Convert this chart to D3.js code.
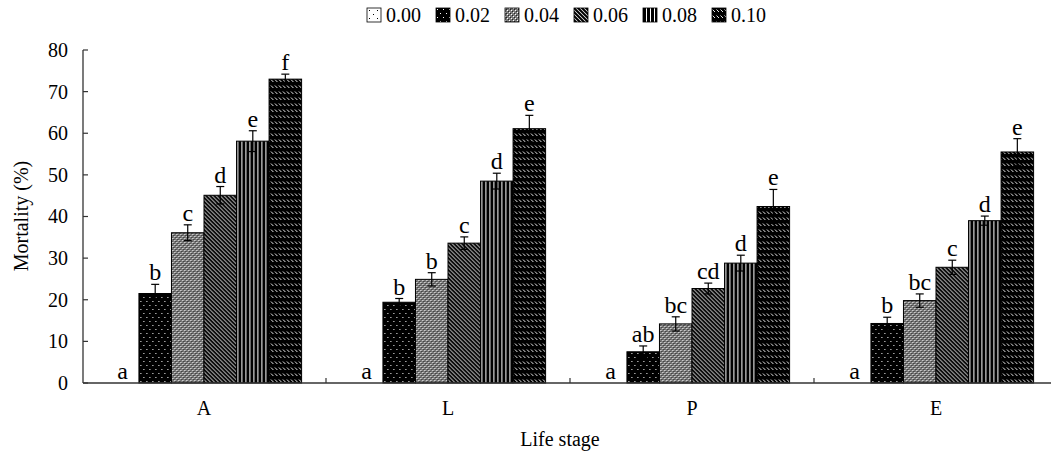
<!DOCTYPE html>
<html>
<head>
<meta charset="utf-8">
<script src="https://cdn.jsdelivr.net/npm/d3@7"></script>
<style>
  body { margin: 0; background: #fff; }
  svg { display: block; font-family: "Liberation Serif", "Times New Roman", serif; }
</style>
</head>
<body>
<div id="chart"></div>
<script>
// data
const stages = ['A', 'L', 'P', 'E'];
const concentrations = ['0.00', '0.02', '0.04', '0.06', '0.08', '0.10'];
const mortality = {
    A: [0, 21.5, 36.1, 45.1, 58.1, 73.0],
    L: [0, 19.4, 24.9, 33.6, 48.5, 61.1],
    P: [0, 7.5, 14.2, 22.7, 28.8, 42.4],
    E: [0, 14.3, 19.8, 27.8, 39.0, 55.5]
};
const stdErr = {
    A: [0, 2.2, 1.9, 2.1, 2.5, 1.2],
    L: [0, 0.9, 1.6, 1.5, 1.9, 3.2],
    P: [0, 1.4, 1.7, 1.3, 1.9, 4.1],
    E: [0, 1.5, 1.6, 1.7, 1.1, 3.2]
};
const letters = {
    A: ['a', 'b', 'c', 'd', 'e', 'f'],
    L: ['a', 'b', 'b', 'c', 'd', 'e'],
    P: ['a', 'ab', 'bc', 'cd', 'd', 'e'],
    E: ['a', 'b', 'bc', 'c', 'd', 'e']
};
const yTicks = [0, 10, 20, 30, 40, 50, 60, 70, 80];

const width = 1051, height = 459;
const svg = d3.select('#chart').append('svg')
    .attr('width', width)
    .attr('height', height);

// fill patterns
const defs = svg.append('defs');
function pattern(id, w, h, bg) {
    const p = defs.append('pattern')
        .attr('id', id)
        .attr('patternUnits', 'userSpaceOnUse')
        .attr('width', w)
        .attr('height', h);
    p.append('rect').attr('width', w).attr('height', h).attr('fill', bg);
    return p;
}
let p;
p = pattern('p0', 8, 8, '#fff');
p.append('rect').attr('x', 2).attr('y', 2).attr('width', 1).attr('height', 1).attr('fill', '#000');
p.append('rect').attr('x', 6).attr('y', 6).attr('width', 1).attr('height', 1).attr('fill', '#000');

p = pattern('p1', 6, 8, '#000');
p.append('rect').attr('x', 1).attr('y', 1).attr('width', 1).attr('height', 1).attr('fill', '#fff');
p.append('rect').attr('x', 4).attr('y', 5).attr('width', 1).attr('height', 1).attr('fill', '#fff');

p = pattern('p2', 4, 4, '#7a7a7a');
p.append('rect').attr('x', 0).attr('y', 0).attr('width', 1).attr('height', 1).attr('fill', '#fff');
p.append('rect').attr('x', 2).attr('y', 2).attr('width', 1).attr('height', 1).attr('fill', '#fff');
p.append('rect').attr('x', 1).attr('y', 1).attr('width', 1).attr('height', 1).attr('fill', '#222');
p.append('rect').attr('x', 3).attr('y', 3).attr('width', 1).attr('height', 1).attr('fill', '#222');

p = pattern('p3', 4, 4, '#fff');
p.append('path').attr('d', 'M-1,-1L5,5M-1,3L1,5M3,-1L5,1')
    .attr('stroke', '#000').attr('stroke-width', 2.1);

p = pattern('p4', 4, 4, '#000');
p.append('rect').attr('x', 3).attr('y', 0).attr('width', 1).attr('height', 4).attr('fill', '#fff');

p = pattern('p5', 4, 6, '#000');
p.append('path').attr('d', 'M0.5,1.5L3,4')
    .attr('stroke', '#fff').attr('stroke-width', 0.9);

const fills = d3.scaleOrdinal()
    .domain(concentrations)
    .range(['url(#p0)', 'url(#p1)', 'url(#p2)', 'url(#p3)', 'url(#p4)', 'url(#p5)']);

// scales
const x0 = d3.scaleBand()
    .domain(stages)
    .range([82, 1058])
    .paddingInner(0.2)
    .paddingOuter(0.1);
const x1 = d3.scaleBand()
    .domain(concentrations)
    .range([0, x0.bandwidth()]);
const y = d3.scaleLinear()
    .domain([0, 80])
    .range([383, 50]);

const axisColor = '#333';

// y axis
const yAxis = d3.axisLeft(y)
    .tickValues(yTicks)
    .tickSize(0)
    .tickPadding(15);
const gy = svg.append('g')
    .attr('transform', 'translate(83,0)')
    .call(yAxis);
gy.select('.domain').remove();
gy.selectAll('text')
    .attr('font-size', 20)
    .attr('font-family', '"Liberation Serif", serif')
    .attr('fill', '#000');
svg.append('g').selectAll('line')
    .data(yTicks)
    .join('line')
    .attr('x1', 83).attr('x2', 88)
    .attr('y1', d => y(d)).attr('y2', d => y(d))
    .attr('stroke', axisColor).attr('stroke-width', 1.2);
svg.append('line')
    .attr('x1', 83).attr('x2', 83)
    .attr('y1', y(80)).attr('y2', y(0))
    .attr('stroke', axisColor).attr('stroke-width', 1.3);

// bars
const groups = svg.append('g').selectAll('g')
    .data(stages)
    .join('g')
    .attr('transform', d => `translate(${x0(d)},0)`);

const rows = s => concentrations.map((c, i) => ({
    stage: s, conc: c, value: mortality[s][i], err: stdErr[s][i], letter: letters[s][i]
}));

groups.selectAll('rect')
    .data(d => rows(d).filter(r => r.value > 0))
    .join('rect')
    .attr('x', d => x1(d.conc))
    .attr('y', d => y(d.value))
    .attr('width', x1.bandwidth())
    .attr('height', d => y(0) - y(d.value))
    .attr('fill', d => fills(d.conc))
    .attr('stroke', '#000')
    .attr('stroke-width', 1);

// error bars
const eb = groups.selectAll('g.err')
    .data(d => rows(d).filter(r => r.err > 0))
    .join('g')
    .attr('class', 'err');
eb.append('line')
    .attr('x1', d => x1(d.conc) + x1.bandwidth() / 2)
    .attr('x2', d => x1(d.conc) + x1.bandwidth() / 2)
    .attr('y1', d => y(d.value - d.err))
    .attr('y2', d => y(d.value + d.err))
    .attr('stroke', '#000').attr('stroke-width', 1.2);
eb.selectAll('line.cap')
    .data(d => [[d, d.value + d.err], [d, d.value - d.err]])
    .join('line')
    .attr('class', 'cap')
    .attr('x1', d => x1(d[0].conc) + x1.bandwidth() / 2 - 4)
    .attr('x2', d => x1(d[0].conc) + x1.bandwidth() / 2 + 4)
    .attr('y1', d => y(d[1]))
    .attr('y2', d => y(d[1]))
    .attr('stroke', '#000').attr('stroke-width', 1.2);

// significance letters
groups.selectAll('text.letter')
    .data(d => rows(d))
    .join('text')
    .attr('class', 'letter')
    .attr('x', d => x1(d.conc) + x1.bandwidth() / 2)
    .attr('y', d => y(d.value + d.err) - 4)
    .attr('text-anchor', 'middle')
    .attr('font-size', 24)
    .attr('fill', '#000')
    .text(d => d.letter);

// x axis
svg.append('line')
    .attr('x1', 83).attr('x2', width)
    .attr('y1', y(0)).attr('y2', y(0))
    .attr('stroke', axisColor).attr('stroke-width', 1.3);
const bounds = stages.slice(1).map(s => x0(s) - x0.step() * x0.paddingInner() / 2);
svg.append('g').selectAll('line')
    .data(bounds)
    .join('line')
    .attr('x1', d => d).attr('x2', d => d)
    .attr('y1', y(0)).attr('y2', y(0) - 5)
    .attr('stroke', axisColor).attr('stroke-width', 1.2);
const xAxis = d3.axisBottom(x0)
    .tickSize(0)
    .tickPadding(18);
const gx = svg.append('g')
    .attr('transform', `translate(0,${y(0)})`)
    .call(xAxis);
gx.select('.domain').remove();
gx.selectAll('text')
    .attr('font-size', 20)
    .attr('font-family', '"Liberation Serif", serif')
    .attr('fill', '#000');

// axis titles
svg.append('text')
    .attr('x', 560)
    .attr('y', 446)
    .attr('text-anchor', 'middle')
    .attr('font-size', 20)
    .text('Life stage');
svg.append('text')
    .attr('transform', 'translate(28,216) rotate(-90)')
    .attr('text-anchor', 'middle')
    .attr('font-size', 20)
    .text('Mortality (%)');

// legend
const legend = svg.append('g').selectAll('g')
    .data(concentrations)
    .join('g')
    .attr('transform', (d, i) => `translate(${367 + i * 69},8)`);
legend.append('rect')
    .attr('width', 14)
    .attr('height', 14)
    .attr('fill', d => fills(d))
    .attr('stroke', '#000')
    .attr('stroke-width', 0.8);
legend.append('text')
    .attr('x', 19)
    .attr('y', 13.5)
    .attr('font-size', 20)
    .text(d => d);
</script>
</body>
</html>
